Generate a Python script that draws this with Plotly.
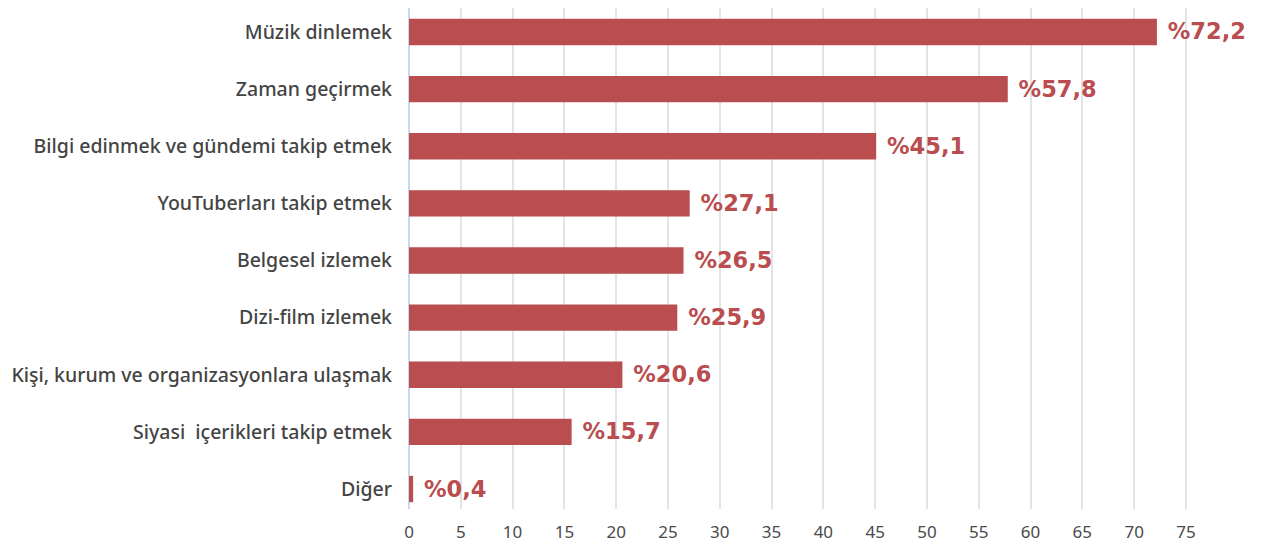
import plotly.graph_objects as go

categories = [
    "Müzik dinlemek",
    "Zaman geçirmek",
    "Bilgi edinmek ve gündemi takip etmek",
    "YouTuberları takip etmek",
    "Belgesel izlemek",
    "Dizi-film izlemek",
    "Kişi, kurum ve organizasyonlara ulaşmak",
    "Siyasi  içerikleri takip etmek",
    "Diğer",
]
values = [72.2, 57.8, 45.1, 27.1, 26.5, 25.9, 20.6, 15.7, 0.4]
x_ticks = list(range(0, 80, 5))

bar_color = "#b94d4f"
labels = [" %" + f"{v:.1f}".replace(".", ",") for v in values]

fig = go.Figure(
    go.Bar(
        x=values,
        y=categories,
        orientation="h",
        marker=dict(color=bar_color, line=dict(width=0)),
        width=0.46,
        text=labels,
        textposition="outside",
        cliponaxis=False,
        textfont=dict(family="DejaVu Sans", size=24, color=bar_color, weight="bold"),
    )
)

fig.update_layout(
    width=1253,
    height=536,
    margin=dict(l=401, r=44, t=0, b=35),
    paper_bgcolor="white",
    plot_bgcolor="white",
    showlegend=False,
    font=dict(family="Noto Sans", color="#444444"),
)

fig.update_xaxes(
    range=[0, 78],
    tickvals=x_ticks,
    showgrid=True,
    gridcolor="#e4e4e4",
    gridwidth=1.5,
    zeroline=True,
    zerolinecolor="#c9d8ec",
    zerolinewidth=2,
    ticks="outside",
    ticklen=8,
    tickcolor="rgba(0,0,0,0)",
    tickfont=dict(family="Noto Sans", size=17, color="#4a4a4a"),
    showline=False,
)

fig.update_yaxes(
    categoryorder="array",
    categoryarray=categories,
    range=[8.35, -0.42],
    tickfont=dict(family="Noto Sans", size=19.5, color="#444444", weight=500),
    ticklabelstandoff=16,
    showgrid=False,
    showline=False,
)

fig.write_html("out.html")
